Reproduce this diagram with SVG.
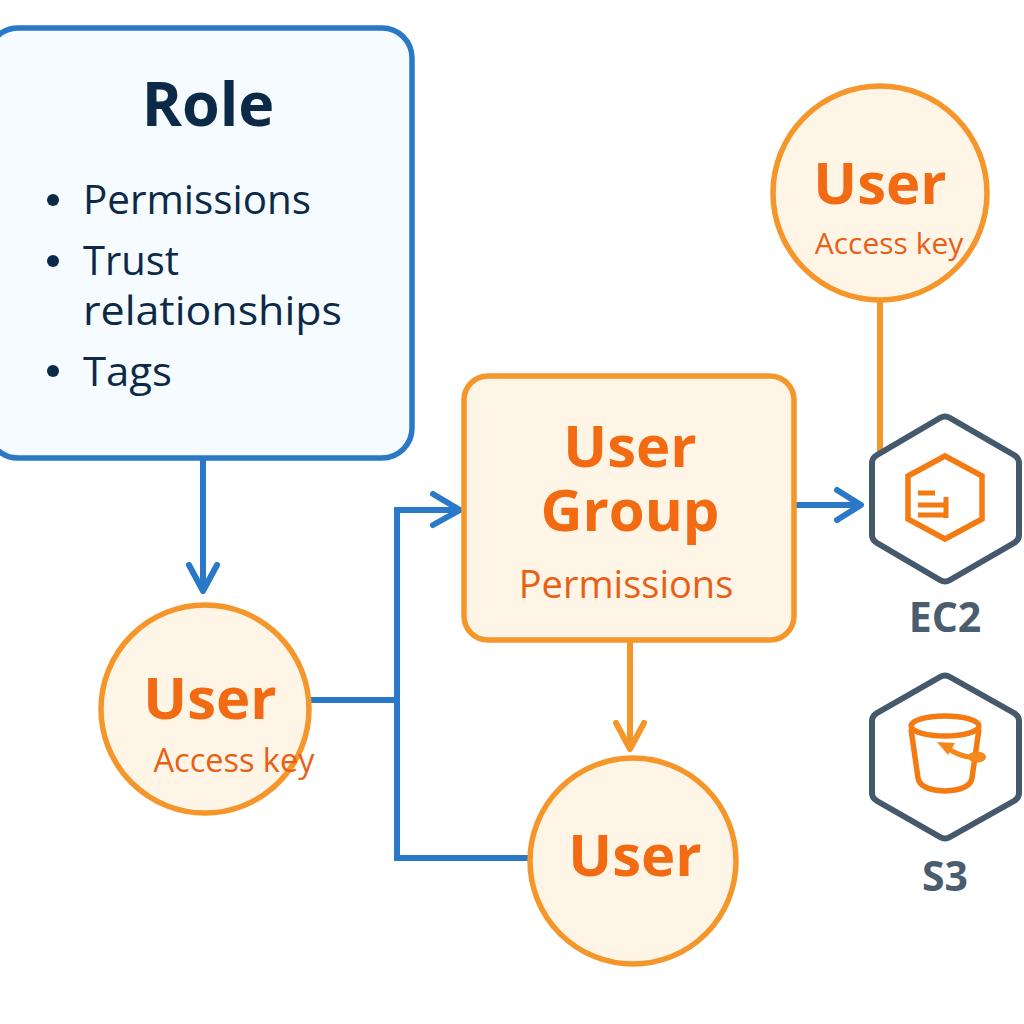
<svg xmlns="http://www.w3.org/2000/svg" width="1024" height="1024" viewBox="0 0 1024 1024">
<defs>
<style>
text{font-family:"Open Sans","Noto Sans","Liberation Sans",sans-serif}
.b{stroke:#2a78c8;stroke-width:6;fill:none}
.o{stroke:#f5962a;stroke-width:6;fill:none}
.h{stroke-linecap:round;stroke-linejoin:round}
.uc{fill:#fef5e7;stroke:#f5962a;stroke-width:5.5}
.u{fill:#f26a12;font-weight:700;text-anchor:middle;font-size:58px}
.s{fill:#e85f16}
.r{fill:#0c2a48;font-size:40px}
.dot{fill:#0c2a48}
.hex{fill:#fff;stroke:#44596b;stroke-width:6;stroke-linejoin:round}
.ic{fill:none;stroke:#f47a12;stroke-width:5.5}
.l{fill:#4a5d6e;font-size:41px;font-weight:700;text-anchor:middle}
</style>
</defs>
<rect width="1024" height="1024" fill="#fff"/>
<g id="connectors">
<path class="b" d="M203 460V590"/><path class="b h" d="M189 565L203 591L217 565"/>
<path class="b" d="M310 700H397M397 510V858H528M394 510H458"/><path class="b h" d="M433 494L460 510L433 525"/>
<path class="o" d="M630 641V748"/><path class="o h" d="M616 723L630 749L644 723"/>
<path class="b" d="M796 505H860"/><path class="b h" d="M837 490L861 505L837 520"/>
<path class="o" d="M880 300V452"/>
</g>
<g id="role"><rect x="-12" y="28" width="424" height="430" rx="30" fill="#f5fbfe" stroke="#2a78c8" stroke-width="5.5"/>
<text x="208" y="126" font-size="61" font-weight="700" fill="#0c2a48" text-anchor="middle">Role</text>
<circle class="dot" cx="53" cy="200" r="6"/><circle class="dot" cx="53" cy="261" r="6"/><circle class="dot" cx="53" cy="371" r="6"/>
<text class="r" x="83" y="214" textLength="228" lengthAdjust="spacingAndGlyphs">Permissions</text><text class="r" x="83" y="275" textLength="96" lengthAdjust="spacingAndGlyphs">Trust</text><text class="r" x="83" y="325" textLength="259" lengthAdjust="spacingAndGlyphs">relationships</text><text class="r" x="83" y="386" textLength="89" lengthAdjust="spacingAndGlyphs">Tags</text></g>
<g id="user-top"><circle class="uc" cx="880" cy="193" r="107"/><text class="u" x="880" y="204">User</text><text class="s" x="889" y="254" font-size="30" text-anchor="middle">Access key</text></g>
<g id="user-group"><rect x="464" y="376" width="330" height="264" rx="24" fill="#fef5e7" stroke="#f5962a" stroke-width="5.5"/><text class="u" x="630" y="467">User</text><text class="u" x="630" y="531">Group</text><text class="s" x="626" y="598" font-size="38" text-anchor="middle">Permissions</text></g>
<g id="user-left"><circle class="uc" cx="205" cy="709" r="104"/><text class="u" x="210" y="719">User</text><text class="s" x="234" y="772" font-size="32.5" text-anchor="middle">Access key</text></g>
<g id="user-bottom"><circle class="uc" cx="633" cy="861" r="103"/><text class="u" x="635" y="876">User</text></g>
<g id="ec2"><path class="hex" d="M940 418Q945 415 950 418L1014 455Q1019 458 1019 463V535Q1019 540 1014 543L950 580Q945 583 940 580L877 543Q872 540 872 535V463Q872 458 877 455Z"/><polygon class="ic" points="945,456 982,476 982,519 945,539 908,519 908,476" stroke-width="6"/><path d="M918 493H935M918 505H948M918 515H948M946 497V518" stroke="#f47a12" stroke-width="5" fill="none"/><text class="l" x="945" y="632">EC2</text></g>
<g id="s3"><path class="hex" d="M940 677Q945 674 950 677L1014 713Q1019 716 1019 721V793Q1019 798 1014 801L950 837Q945 840 940 837L877 801Q872 798 872 793V721Q872 716 877 713Z"/><path class="ic" d="M911 729L918 778Q920 790 945 791Q970 790 972 778L979 729"/><ellipse class="ic" cx="945" cy="726" rx="34" ry="10"/><path d="M945 746Q958 757 976 758" fill="none" stroke="#f4881a" stroke-width="5"/><path d="M937 742L955 743L948 755Z" fill="#f4881a"/><ellipse cx="977" cy="757" rx="9" ry="5.5" fill="#f4881a"/><text class="l" x="945" y="891">S3</text></g>
</svg>
